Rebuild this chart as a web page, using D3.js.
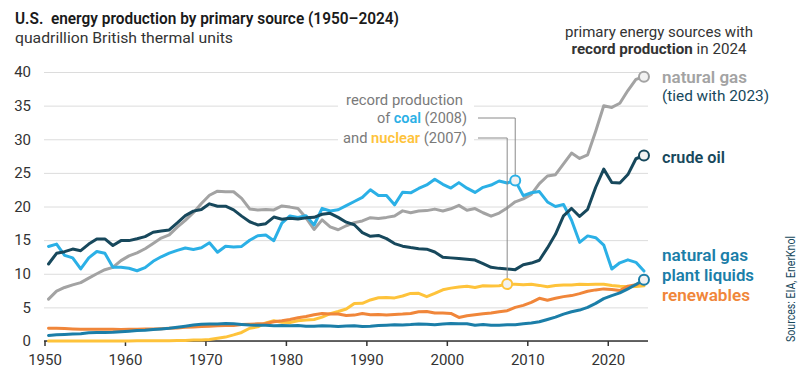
<!DOCTYPE html>
<html>
<head>
<meta charset="utf-8">
<script src="https://cdn.jsdelivr.net/npm/d3@7"></script>
<style>
  html, body { margin: 0; padding: 0; background: #fff; }
  svg { display: block; font-family: Roboto, "Noto Sans", sans-serif; }
</style>
</head>
<body>
<svg id="chart" width="811" height="377"></svg>
<script>
// years on the x axis (one value per year, 1950-2024)
const years = d3.range(1950, 2025);
const xTicks = [1950, 1960, 1970, 1980, 1990, 2000, 2010, 2020];
const yTicks = [0, 5, 10, 15, 20, 25, 30, 35, 40];

// quadrillion Btu
const naturalGas = [
  6.23, 7.42, 7.96, 8.34, 8.68, 9.35, 10.00, 10.60, 10.94, 11.95,
  12.66, 13.11, 13.72, 14.51, 15.30, 15.78, 16.94, 17.94, 19.07, 20.45,
  21.67, 22.28, 22.21, 22.19, 21.21, 19.64, 19.48, 19.57, 19.49, 20.08,
  19.91, 19.70, 18.32, 16.59, 18.01, 16.98, 16.54, 17.14, 17.60, 17.85,
  18.33, 18.23, 18.38, 18.58, 19.35, 19.08, 19.34, 19.39, 19.61, 19.34,
  19.66, 20.17, 19.44, 19.69, 19.07, 18.56, 19.02, 19.79, 20.70, 21.14,
  21.81, 23.41, 24.54, 24.73, 26.33, 27.95, 27.15, 27.69, 31.20, 34.98,
  34.73, 35.35, 37.24, 38.90, 39.30
];
const crudeOil = [
  11.45, 13.04, 13.28, 13.67, 13.43, 14.41, 15.18, 15.18, 14.20, 14.93,
  14.93, 15.21, 15.52, 16.18, 16.35, 16.52, 17.56, 18.65, 19.31, 19.56,
  20.40, 20.03, 20.04, 19.49, 18.57, 17.73, 17.26, 17.45, 18.43, 18.10,
  18.25, 18.15, 18.31, 18.39, 18.85, 18.99, 18.38, 17.67, 17.28, 16.12,
  15.57, 15.70, 15.22, 14.49, 14.10, 13.89, 13.72, 13.66, 13.24, 12.45,
  12.36, 12.28, 12.16, 12.03, 11.50, 10.96, 10.80, 10.72, 10.61, 11.35,
  11.59, 12.01, 13.84, 15.86, 18.60, 19.71, 18.52, 19.59, 22.86, 25.56,
  23.58, 23.49, 24.75, 27.10, 27.60
];
const coal = [
  14.06, 14.41, 12.73, 12.37, 10.71, 12.37, 13.31, 13.06, 10.96, 10.96,
  10.82, 10.45, 10.90, 11.85, 12.52, 13.06, 13.47, 13.83, 13.61, 13.86,
  14.61, 13.19, 14.09, 13.99, 14.07, 14.99, 15.65, 15.76, 14.91, 17.54,
  18.60, 18.38, 18.64, 17.25, 19.72, 19.33, 19.51, 20.14, 20.74, 21.36,
  22.49, 21.64, 21.63, 20.25, 22.11, 22.03, 22.68, 23.21, 24.05, 23.30,
  22.74, 23.55, 22.73, 22.09, 22.85, 23.19, 23.79, 23.49, 23.85, 21.62,
  22.04, 22.22, 20.68, 19.99, 20.29, 17.95, 14.67, 15.63, 15.36, 14.26,
  10.70, 11.63, 12.07, 11.70, 10.40
];
const nuclear = [
  0, 0, 0, 0, 0, 0, 0, 0, 0.002, 0.002,
  0.006, 0.02, 0.026, 0.038, 0.04, 0.043, 0.064, 0.088, 0.142, 0.154,
  0.239, 0.413, 0.584, 0.910, 1.272, 1.900, 2.111, 2.702, 3.024, 2.776,
  2.739, 3.008, 3.131, 3.203, 3.553, 4.076, 4.380, 4.754, 5.587, 5.602,
  6.104, 6.422, 6.479, 6.410, 6.694, 7.075, 7.087, 6.597, 7.068, 7.610,
  7.862, 8.029, 8.145, 7.960, 8.223, 8.161, 8.215, 8.459, 8.426, 8.356,
  8.434, 8.269, 8.062, 8.244, 8.338, 8.337, 8.427, 8.419, 8.438, 8.452,
  8.251, 8.131, 8.06, 8.10, 8.20
];
const ngpl = [
  0.82, 0.93, 0.98, 1.03, 1.09, 1.24, 1.28, 1.28, 1.30, 1.39,
  1.46, 1.55, 1.59, 1.71, 1.80, 1.88, 2.05, 2.20, 2.37, 2.49,
  2.51, 2.54, 2.60, 2.57, 2.47, 2.37, 2.33, 2.33, 2.25, 2.29,
  2.25, 2.31, 2.19, 2.18, 2.27, 2.24, 2.15, 2.22, 2.26, 2.16,
  2.18, 2.31, 2.36, 2.41, 2.39, 2.44, 2.53, 2.50, 2.42, 2.53,
  2.61, 2.55, 2.56, 2.35, 2.47, 2.33, 2.36, 2.41, 2.42, 2.57,
  2.69, 2.86, 3.20, 3.55, 4.00, 4.35, 4.60, 5.00, 5.60, 6.30,
  6.75, 7.15, 7.75, 8.40, 9.10
];
const renewables = [
  1.90, 1.88, 1.85, 1.80, 1.76, 1.75, 1.75, 1.74, 1.74, 1.72,
  1.74, 1.75, 1.78, 1.80, 1.84, 1.90, 1.95, 2.04, 2.10, 2.15,
  2.20, 2.25, 2.30, 2.32, 2.45, 2.50, 2.55, 2.60, 2.85, 3.00,
  3.20, 3.45, 3.65, 3.90, 4.10, 4.00, 4.00, 3.80, 3.85, 4.10,
  3.90, 3.95, 3.85, 3.95, 4.00, 4.10, 4.35, 4.40, 4.15, 4.15,
  4.10, 3.50, 3.75, 3.90, 4.05, 4.15, 4.35, 4.50, 5.00, 5.30,
  5.75, 6.35, 6.05, 6.35, 6.60, 6.75, 7.05, 7.40, 7.60, 7.75,
  7.65, 7.50, 8.15, 8.35, 8.90
];

const colors = {
  gas: '#a3a3a3',
  oil: '#17485c',
  coal: '#2bb0e6',
  ngpl: '#1b7ea8',
  renew: '#f0863a',
  nuclear: '#fec33b',
  text: '#333333',
  note: '#7a7a7a'
};

// drawing order, back to front
const series = [
  { key: 'nuclear', values: nuclear, color: colors.nuclear },
  { key: 'renew', values: renewables, color: colors.renew },
  { key: 'ngpl', values: ngpl, color: colors.ngpl },
  { key: 'gas', values: naturalGas, color: colors.gas },
  { key: 'coal', values: coal, color: colors.coal },
  { key: 'oil', values: crudeOil, color: colors.oil }
];

const svg = d3.select('#chart');

const x = d3.scaleLinear().domain([1950, 2025]).range([44.5, 648]);
const y = d3.scaleLinear().domain([0, 40]).range([341, 72]);
// each year's value sits in the middle of its year
const px = yr => x(yr + 0.5);

// y axis with gridlines
const yAxis = svg.append('g')
  .attr('transform', 'translate(44,0)')
  .call(d3.axisLeft(y).tickValues(yTicks).tickSize(-604).tickPadding(13));
yAxis.select('.domain').remove();
yAxis.selectAll('.tick line').attr('stroke', '#dcdcdc').attr('stroke-width', 1);
yAxis.selectAll('.tick text')
  .attr('fill', colors.text)
  .style('font-size', '15px')
  .style('font-family', 'Roboto, sans-serif');

// background behind the middle note, hides the gridlines there
svg.append('rect')
  .attr('x', 338).attr('y', 91).attr('width', 136).attr('height', 56)
  .attr('fill', '#fff');

// x axis
const xAxis = svg.append('g')
  .attr('transform', `translate(0,${y(0)})`)
  .call(d3.axisBottom(x).tickValues(xTicks).tickFormat(d3.format('d')).tickSize(5).tickPadding(8));
xAxis.select('.domain').remove();
xAxis.selectAll('.tick line').attr('stroke', '#333').attr('stroke-width', 1.5);
xAxis.selectAll('.tick text')
  .attr('fill', colors.text)
  .style('font-size', '15px')
  .style('font-family', 'Roboto, sans-serif');
xAxis.append('line')
  .attr('x1', 44).attr('x2', 648)
  .attr('stroke', '#333').attr('stroke-width', 1.5);

// lines
const line = d3.line()
  .x((d, i) => px(years[i]))
  .y(d => y(d));

svg.append('g').selectAll('path')
  .data(series)
  .join('path')
  .attr('d', d => line(d.values))
  .attr('fill', 'none')
  .attr('stroke', d => d.color)
  .attr('stroke-width', 3)
  .attr('stroke-linejoin', 'round')
  .attr('stroke-linecap', 'round');

// connectors for the record production note
const coalRec = 2008, nucRec = 2007;
const coalX = px(coalRec), coalY = y(coal[years.indexOf(coalRec)]);
const nucX = px(nucRec), nucY = y(nuclear[years.indexOf(nucRec)]);
const conn = svg.append('g').attr('fill', 'none').attr('stroke', '#8a8a8a').attr('stroke-width', 1);
conn.append('path').attr('d', `M478,118H${coalX}V${coalY - 5}`);
conn.append('path').attr('d', `M478,138H${nucX}V${nucY - 5}`);

// record markers
const markers = [
  { yr: 2024, v: naturalGas[years.indexOf(2024)], color: colors.gas },
  { yr: 2024, v: crudeOil[years.indexOf(2024)], color: colors.oil },
  { yr: 2024, v: ngpl[years.indexOf(2024)], color: colors.ngpl },
  { yr: coalRec, v: coal[years.indexOf(coalRec)], color: colors.coal },
  { yr: nucRec, v: nuclear[years.indexOf(nucRec)], color: colors.nuclear }
];
svg.append('g').selectAll('circle')
  .data(markers)
  .join('circle')
  .attr('cx', d => px(d.yr))
  .attr('cy', d => y(d.v))
  .attr('r', 5)
  .attr('fill', '#f2f2f2')
  .attr('stroke', d => d.color)
  .attr('stroke-width', 2);

// text helper
function txt(g, str, xx, yy, o = {}) {
  const t = g.append('text')
    .attr('x', xx).attr('y', yy)
    .attr('fill', o.fill || colors.text)
    .style('font-size', (o.size || 15) + 'px')
    .style('font-weight', o.weight || 400)
    .style('white-space', 'pre')
    .attr('text-anchor', o.anchor || 'start');
  if (str) t.text(str);
  if (o.width) t.attr('textLength', o.width).attr('lengthAdjust', 'spacingAndGlyphs');
  return t;
}

// title
txt(svg, 'U.S.  energy production by primary source (1950\u20132024)', 15, 24,
  { size: 17, weight: 600, fill: '#1a1a1a', width: 384 });
txt(svg, 'quadrillion British thermal units', 15, 43, { size: 15, width: 218 });

// top right note
txt(svg, 'primary energy sources with', 659, 37, { anchor: 'middle', width: 188 });
const t2 = txt(svg, null, 659, 54, { anchor: 'middle', width: 175 });
t2.append('tspan').style('font-weight', 700).text('record production');
t2.append('tspan').text(' in 2024');

// middle note
txt(svg, 'record production', 463, 105, { anchor: 'end', fill: colors.note, width: 117 });
const n2 = txt(svg, null, 467, 123, { anchor: 'end', fill: colors.note, width: 90 });
n2.append('tspan').text('of ');
n2.append('tspan').attr('fill', colors.coal).style('font-weight', 600).text('coal');
n2.append('tspan').text(' (2008)');
const n3 = txt(svg, null, 467, 143, { anchor: 'end', fill: colors.note, width: 124 });
n3.append('tspan').text('and ');
n3.append('tspan').attr('fill', colors.nuclear).style('font-weight', 600).text('nuclear');
n3.append('tspan').text(' (2007)');

// right labels
txt(svg, 'natural gas', 662, 83, { size: 17, weight: 600, fill: colors.gas, width: 85 });
txt(svg, '(tied with 2023)', 662, 101, { size: 15, fill: colors.oil, width: 107 });
txt(svg, 'crude oil', 662, 163, { size: 17, weight: 600, fill: colors.oil, width: 63 });
txt(svg, 'natural gas', 662, 261, { size: 17, weight: 600, fill: colors.ngpl, width: 86 });
txt(svg, 'plant liquids', 662, 281, { size: 17, weight: 600, fill: colors.ngpl, width: 92 });
txt(svg, 'renewables', 662, 301, { size: 17, weight: 600, fill: colors.renew, width: 88 });

// sources, rotated
svg.append('text')
  .attr('transform', 'translate(795,342) rotate(-90)')
  .attr('fill', colors.oil)
  .style('font-size', '12px')
  .attr('textLength', 106)
  .attr('lengthAdjust', 'spacingAndGlyphs')
  .text('Sources: EIA, EnerKnol');
</script>
</body>
</html>
